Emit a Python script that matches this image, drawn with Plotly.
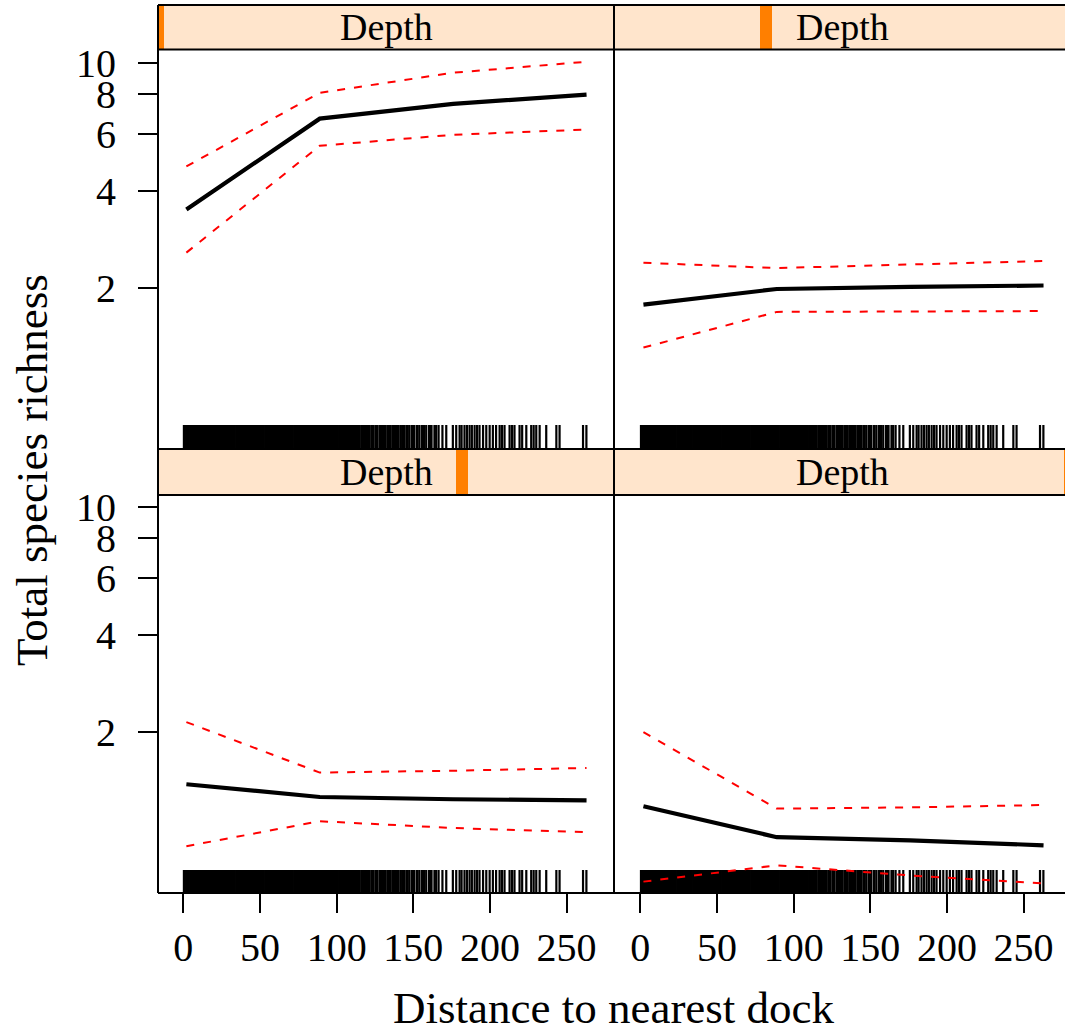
import plotly.graph_objects as go

# ---------------- data ----------------
dist_levels = [2, 89, 176, 263]
panel_names = ["Depth", "Depth", "Depth", "Depth"]
# fitted / lower / upper (response scale) per depth panel: TL, TR, BL, BR
fit = [
    [3.51, 6.71, 7.46, 7.96],
    [1.78, 1.99, 2.02, 2.04],
    [1.38, 1.26, 1.24, 1.23],
    [1.18, 0.946, 0.925, 0.893],
]
lower = [
    [2.58, 5.53, 5.98, 6.21],
    [1.31, 1.69, 1.695, 1.70],
    [0.887, 1.06, 1.01, 0.98],
    [0.689, 0.774, 0.72, 0.68],
]
upper = [
    [4.77, 8.07, 9.31, 10.07],
    [2.40, 2.31, 2.37, 2.43],
    [2.15, 1.50, 1.52, 1.55],
    [2.00, 1.16, 1.17, 1.19],
]
rug_vals = [0.4, 1.0, 1.9, 2.4, 3.1, 3.6, 4.5, 5.1, 5.6, 6.4, 7.0, 7.9, 8.4, 9.2, 9.9, 10.5, 11.3,
            12.0, 12.6, 13.4, 14.1, 14.7, 15.5, 16.2, 16.8, 17.6, 18.2, 18.9, 19.7, 20.3, 21.0,
            21.9, 22.5, 23.1, 24.0, 24.6, 25.2, 26.1, 26.7, 27.3, 28.2, 28.8, 29.4, 30.3, 30.9,
            31.5, 32.4, 33.0, 33.6, 34.5, 35.1, 35.7, 36.6, 37.2, 37.8, 38.7, 39.3, 39.9, 40.8,
            41.4, 42.0, 42.9, 43.5, 44.1, 45.0, 45.6, 46.2, 47.1, 47.7, 48.3, 49.2, 49.8, 50.4,
            51.3, 51.9, 52.5, 53.4, 54.0, 54.6, 55.5, 56.1, 56.7, 57.6, 58.2, 58.8, 59.7, 60.3,
            60.9, 61.8, 62.4, 63.0, 63.9, 64.5, 65.1, 66.0, 66.6, 67.2, 68.1, 68.7, 69.3, 70.2,
            70.8, 71.4, 72.3, 72.9, 73.5, 74.4, 75.0, 75.6, 76.5, 77.1, 77.7, 78.6, 79.2, 79.8,
            80.7, 81.3, 81.9, 82.8, 83.4, 84.0, 84.9, 85.5, 86.1, 87.0, 87.6, 88.2, 89.1, 89.7,
            90.3, 91.2, 91.8, 92.4, 93.3, 93.9, 94.5, 95.4, 96.0, 96.6, 97.5, 98.1, 98.7, 99.6,
            100.2, 100.8, 101.7, 102.3, 102.9, 103.8, 104.4, 105.0, 105.9, 106.5, 107.1, 108.0,
            108.6, 109.2, 110.1, 110.7, 111.4, 112.3,
            113.0, 113.8, 114.5, 115.0, 116.1, 116.8, 117.5, 118.3, 119.2, 120.4, 121.0, 121.6,
            122.9, 123.5, 124.0, 125.3, 125.9, 126.5, 127.9, 128.5, 129.1, 130.2, 131.0, 131.6,
            133.0, 133.6, 134.1, 135.3, 136.6, 137.3, 138.0, 139.2, 139.8, 140.5, 141.9, 143.0,
            143.7, 144.3, 145.6, 146.4, 147.5, 149.0, 149.6, 150.4, 152.1, 152.8, 154.0, 155.6,
            156.2, 157.0, 158.4, 160.2, 161.0, 161.9, 163.8, 164.9, 166.5, 169.0,
            171.5, 175.8, 178.0, 180.2, 181.5, 183.4, 185.0, 186.7, 188.2, 190.0, 191.6, 193.2,
            195.5, 197.6, 199.8, 201.9, 204.0, 206.3, 207.8, 209.5, 212.8, 214.4, 216.0, 219.3,
            221.0, 223.7, 226.9, 228.5, 230.2, 232.4, 236.7, 243.3, 245.4, 260.7, 262.9]
y_ticks = [2, 4, 6, 8, 10]
x_ticks = [0, 50, 100, 150, 200, 250]
depth_pos = [0, 1, 2, 3]  # position of the depth level indicator in each strip

# ---------------- layout geometry (pixels) ----------------
W, H = 1065, 1031
FONT = "Liberation Serif"
TICK_SIZE = 40
col_x = [(158, 614), (614, 1065)]
row_y = [(49.5, 449), (495, 893)]
strip_y = [(5, 49.5), (449, 495)]
xr = [[-16.5, 280.9], [-17.2, 277.0]]
yr = [[-0.197, 1.041], [-0.197, 1.036]]
PX_DEC = 322.8
rug_px = [24, 23]

def px(xp):
    return xp / W

def py(yp):
    return 1 - yp / H

fig = go.Figure()
panels = [(0, 0), (0, 1), (1, 0), (1, 1)]
shapes = []
annotations = []
for i, (r, c) in enumerate(panels):
    ax = "" if i == 0 else str(i + 1)
    xa, ya = "x" + ax, "y" + ax
    # rug
    y0 = 10 ** yr[r][0]
    y1 = 10 ** (yr[r][0] + rug_px[r] / PX_DEC)
    rx, ry = [], []
    for v in rug_vals:
        rx += [v, v, None]
        ry += [y0, y1, None]
    fig.add_trace(go.Scatter(x=rx, y=ry, mode="lines", line=dict(color="black", width=2.2),
                             xaxis=xa, yaxis=ya, showlegend=False, hoverinfo="skip"))
    for band in (lower[i], upper[i]):
        fig.add_trace(go.Scatter(x=dist_levels, y=band, mode="lines",
                                 line=dict(color="#ff0000", width=2, dash="8px,9px"),
                                 xaxis=xa, yaxis=ya, showlegend=False))
    fig.add_trace(go.Scatter(x=dist_levels, y=fit[i], mode="lines",
                             line=dict(color="black", width=4.2),
                             xaxis=xa, yaxis=ya, showlegend=False))

    xdict = dict(domain=[px(col_x[c][0]), px(col_x[c][1])], range=xr[c], anchor=ya,
                 showgrid=False, zeroline=False, showline=False, automargin=False,
                 tickfont=dict(family=FONT, size=TICK_SIZE, color="black"))
    if r == 1:
        xdict.update(tickmode="array", tickvals=x_ticks, ticks="outside", ticklen=19,
                     tickwidth=2, tickcolor="black", ticklabelstandoff=0)
    else:
        xdict.update(showticklabels=False, ticks="")
    ydict = dict(domain=[py(row_y[r][1]), py(row_y[r][0])], type="log", range=yr[r],
                 anchor=xa, showgrid=False, zeroline=False, showline=False, automargin=False,
                 tickfont=dict(family=FONT, size=TICK_SIZE, color="black"))
    if c == 0:
        ydict.update(tickmode="array", tickvals=y_ticks, ticktext=[str(t) for t in y_ticks],
                     ticks="outside", ticklen=19, tickwidth=2, tickcolor="black",
                     ticklabelstandoff=14)
    else:
        ydict.update(showticklabels=False, ticks="")
    fig.update_layout(**{"xaxis" + ax: xdict, "yaxis" + ax: ydict})

    # strip background
    swidth = col_x[0][1] - col_x[0][0]
    sx0 = col_x[c][0]
    sx1 = sx0 + swidth
    shapes.append(dict(type="rect", xref="paper", yref="paper", x0=px(sx0), x1=px(min(sx1, W)),
                       y0=py(strip_y[r][1]), y1=py(strip_y[r][0]),
                       fillcolor="#FFE5CC", line=dict(width=0), layer="below"))
    # orange indicator
    cx = sx0 + depth_pos[i] * swidth / 3
    ox0, ox1 = max(cx - 6, sx0), min(cx + 6, W)
    if ox1 > ox0:
        shapes.append(dict(type="rect", xref="paper", yref="paper", x0=px(ox0), x1=px(ox1),
                           y0=py(strip_y[r][1]), y1=py(strip_y[r][0]),
                           fillcolor="#FF7F00", line=dict(width=0), layer="below"))
    annotations.append(dict(text=panel_names[i], xref="paper", yref="paper",
                            x=px((sx0 + sx1) / 2), y=py((strip_y[r][0] + strip_y[r][1]) / 2),
                            showarrow=False, xanchor="center", yanchor="middle",
                            font=dict(family=FONT, size=38, color="black")))

# borders
def hline(x0, x1, y):
    shapes.append(dict(type="line", xref="paper", yref="paper", x0=px(x0), x1=px(x1),
                       y0=py(y), y1=py(y), line=dict(color="black", width=2)))

def vline(x, y0, y1):
    shapes.append(dict(type="line", xref="paper", yref="paper", x0=px(x), x1=px(x),
                       y0=py(y0), y1=py(y1), line=dict(color="black", width=2)))

for yy in [5, 49.5, 449, 495, 893]:
    hline(158, W, yy)
vline(158, 5, 893)
vline(614, 5, 893)

annotations.append(dict(text="Distance to nearest dock", xref="paper", yref="paper",
                        x=px(614), y=py(1008), showarrow=False, xanchor="center",
                        yanchor="middle", font=dict(family=FONT, size=45, color="black")))
annotations.append(dict(text="Total species richness", xref="paper", yref="paper",
                        x=px(32), y=py(470), showarrow=False, textangle=-90,
                        xanchor="center", yanchor="middle",
                        font=dict(family=FONT, size=45, color="black")))

fig.update_layout(width=W, height=H,
                  margin=dict(l=0, r=0, t=0, b=0, pad=0, autoexpand=False),
                  paper_bgcolor="white", plot_bgcolor="rgba(0,0,0,0)",
                  shapes=shapes, annotations=annotations, showlegend=False)
fig.write_html("out.html")
